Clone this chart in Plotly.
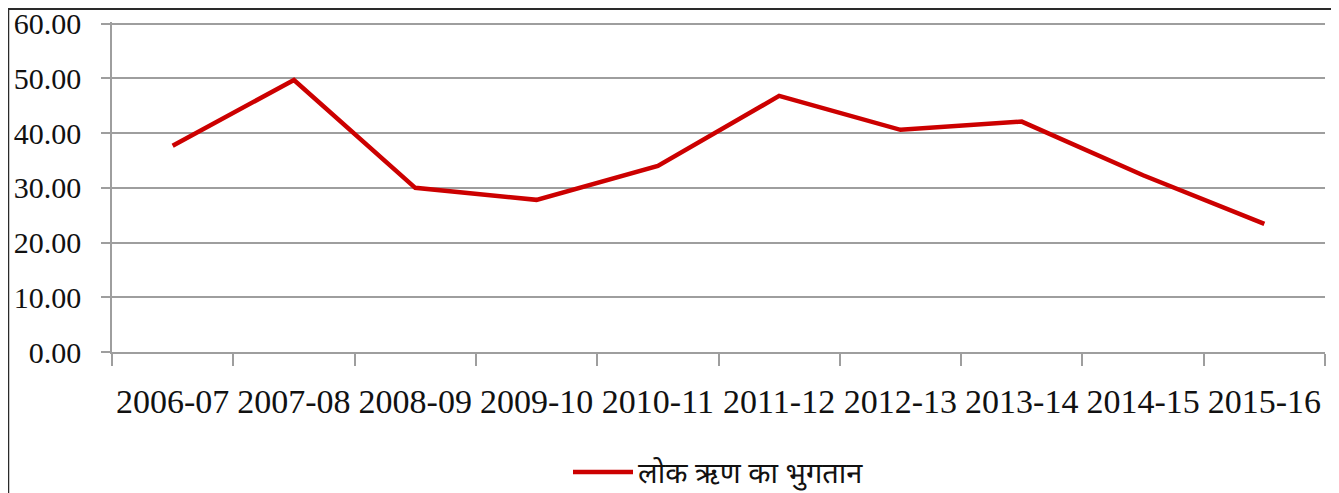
import plotly.graph_objects as go

years = ["2006-07", "2007-08", "2008-09", "2009-10", "2010-11",
         "2011-12", "2012-13", "2013-14", "2014-15", "2015-16"]
repayment = [37.7, 49.7, 30.0, 27.8, 34.0, 46.8, 40.6, 42.1, 32.3, 23.4]
series_name = "लोक ऋण का भुगतान"
y_ticks = [0, 10, 20, 30, 40, 50, 60]
y_tick_text = ["0.00", "10.00", "20.00", "30.00", "40.00", "50.00", "60.00"]

# the page body adds an 8px offset; positions below are page pixels
OFF = 8
W, H = 1339, 493
Y_TOP = 60.3
px_per_unit = (352 - 24) / 60.0
plot_left, plot_right = 112, 1325
plot_bottom = 352
plot_top = plot_bottom - Y_TOP * px_per_unit
L = plot_left - OFF
T = plot_top - OFF
R = W - (plot_right - OFF)
B = H - (plot_bottom - OFF)
pw, ph = W - L - R, H - T - B

def px_x(x):
    return (x - OFF - L) / pw

def px_y(y):
    return (H - B - (y - OFF)) / ph

fig = go.Figure()
fig.add_trace(go.Scatter(
    x=years, y=repayment, mode="lines", name=series_name,
    line=dict(color="#CC0000", width=4.5),
))

grid = "#9e9e9e"
fig.update_layout(
    width=W, height=H,
    margin=dict(l=L, r=R, t=T, b=B, autoexpand=False),
    paper_bgcolor="white", plot_bgcolor="white",
    showlegend=True,
    legend=dict(orientation="h", x=0.5, xanchor="center",
                y=px_y(472), yanchor="middle", itemwidth=60,
                font=dict(family="Noto Sans Devanagari, Noto Sans, sans-serif", size=29, color="#111"),
                bgcolor="rgba(0,0,0,0)"),
    xaxis=dict(
        type="category", tickson="boundaries", automargin=False, tickangle=0,
        showline=True, linecolor=grid, linewidth=1.5,
        ticks="outside", ticklen=12, tickcolor=grid, tickwidth=1.5,
        showgrid=False, ticklabelstandoff=18,
        tickfont=dict(family="Liberation Serif, serif", size=34, color="#111"),
        range=[-0.5, 9.5],
    ),
    yaxis=dict(
        range=[0, Y_TOP], tickvals=y_ticks, ticktext=y_tick_text, automargin=False,
        ticklabeloverflow="allow",
        showline=True, linecolor=grid, linewidth=1.5,
        ticks="outside", ticklen=9, tickcolor=grid, tickwidth=1.5,
        showgrid=True, gridcolor=grid, gridwidth=1.5,
        zeroline=False, ticklabelstandoff=14,
        tickfont=dict(family="Liberation Serif, serif", size=30, color="#111"),
    ),
    shapes=[dict(type="rect", xref="paper", yref="paper",
                 x0=px_x(8), x1=px_x(1333), y0=px_y(520), y1=px_y(9),
                 line=dict(color="#2a2a2a", width=2.5), fillcolor="rgba(0,0,0,0)",
                 layer="above")],
)

fig.write_html("out.html")
